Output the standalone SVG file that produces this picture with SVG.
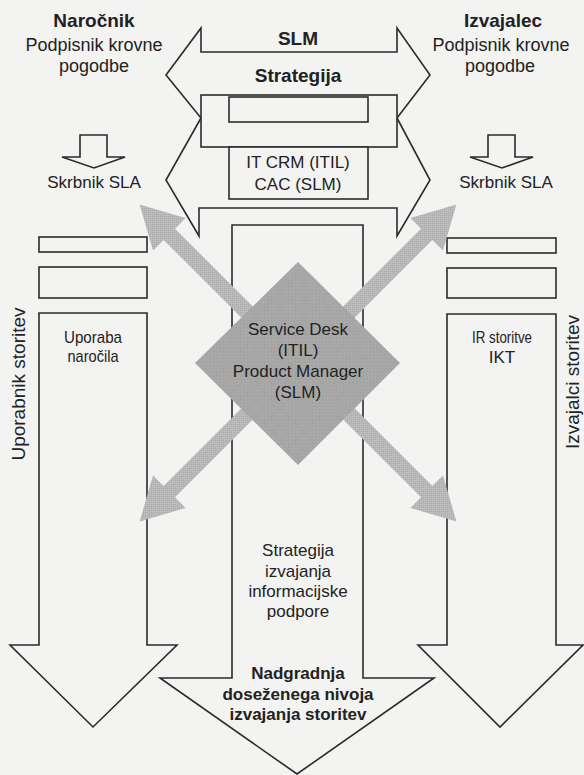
<svg xmlns="http://www.w3.org/2000/svg" width="584" height="775" viewBox="0 0 584 775">
  <style>
    .ln { fill: none; stroke: #2b2b2b; stroke-width: 1.6; stroke-linejoin: miter; }
    .bx { fill: #f3f3f1; stroke: #2b2b2b; stroke-width: 1.6; }
    .t { font-family: "Liberation Sans", Arial, Helvetica, sans-serif; fill: #222; text-anchor: middle; }
    .r17 { font-size: 17px; }
    .r18 { font-size: 18px; }
    .b19 { font-size: 19px; font-weight: bold; }
    .b17 { font-size: 17px; font-weight: bold; }
    .v19 { font-size: 19px; }
    .gray { fill: url(#screen-light); }
    .dia { fill: url(#screen-dark); }
  </style>
  <defs>
    <!-- halftone screens for the gray fills -->
    <pattern id="screen-light" width="2" height="2" patternUnits="userSpaceOnUse" patternTransform="rotate(45)">
      <rect width="2" height="2" fill="#bcbcbc"/>
      <rect width="1" height="1" fill="#a9a9a9"/>
    </pattern>
    <pattern id="screen-dark" width="2" height="2" patternUnits="userSpaceOnUse" patternTransform="rotate(45)">
      <rect width="2" height="2" fill="#adadad"/>
      <rect width="1" height="1" fill="#939393"/>
    </pattern>
    <!-- thick gray arrow pointing along +x, starting at the origin -->
    <path id="fat-arrow" d="M0,-8 L182,-8 L182,-23 L224,0 L182,23 L182,8 L0,8 Z"/>
  </defs>

  <rect x="0" y="0" width="584" height="775" fill="#f3f3f1"/>

  <!-- customer side -->
  <g id="narocnik">
    <text class="t b19" x="94" y="27">Naročnik</text>
    <text class="t r18" x="94" y="51">Podpisnik krovne</text>
    <text class="t r18" x="94" y="72">pogodbe</text>
    <text class="t r17" x="94" y="188">Skrbnik SLA</text>
  </g>

  <!-- provider side -->
  <g id="izvajalec">
    <text class="t b19" x="503" y="27">Izvajalec</text>
    <text class="t r18" x="501" y="51">Podpisnik krovne</text>
    <text class="t r18" x="500" y="72">pogodbe</text>
    <text class="t r17" x="506" y="188">Skrbnik SLA</text>
  </g>

  <!-- SLM double arrow -->
  <g id="slm">
    <polyline class="ln" points="201,118 166,75 201,28 201,52 397,52 397,28 430,75 397,118"/>
    <text class="t b19" x="298" y="45">SLM</text>
    <text class="t b19" x="298" y="82">Strategija</text>
  </g>

  <!-- strategy block -->
  <g id="strategija-blok">
    <rect class="bx" x="201" y="95" width="196" height="52"/>
    <rect class="bx" x="229" y="97" width="139" height="25"/>
  </g>

  <!-- lower double arrow -->
  <g id="crm-arrow">
    <polyline class="ln" points="201,118 166,180 199,236 199,208 397,208 397,236 430,180 397,118"/>
  </g>

  <g id="it-crm">
    <rect class="bx" x="229" y="147" width="139" height="52"/>
    <text class="t r17" x="298" y="168">IT CRM (ITIL)</text>
    <text class="t r17" x="298" y="190">CAC (SLM)</text>
  </g>

  <!-- user column -->
  <g id="uporabnik">
    <rect class="bx" x="39" y="237" width="108" height="15"/>
    <rect class="bx" x="39" y="267" width="108" height="31"/>
    <polygon class="bx" points="39,313 147,313 147,645 177,645 93,727 10,645 39,645"/>
    <text class="t r17" x="93" y="343" textLength="58" lengthAdjust="spacingAndGlyphs">Uporaba</text>
    <text class="t r17" x="93" y="362" textLength="51" lengthAdjust="spacingAndGlyphs">naročila</text>
    <text class="t v19" transform="translate(25,384) rotate(-90)">Uporabnik storitev</text>
  </g>

  <!-- provider column -->
  <g id="izvajalci">
    <rect class="bx" x="447" y="238" width="109" height="15"/>
    <rect class="bx" x="447" y="268" width="109" height="30"/>
    <polygon class="bx" points="447,314 556,314 556,645 583,645 500,727 418,645 447,645"/>
    <text class="t r17" x="502" y="343" textLength="60" lengthAdjust="spacingAndGlyphs">IR storitve</text>
    <text class="t r17" x="502" y="363">IKT</text>
    <text class="t v19" transform="translate(579,382) rotate(-90)">Izvajalci storitev</text>
  </g>

  <!-- central column -->
  <g id="osrednji">
    <polygon class="bx" points="232,225 363,225 363,678 434,678 297,774 160,678 232,678"/>
    <text class="t r17" x="298" y="556">Strategija</text>
    <text class="t r17" x="298" y="577">izvajanja</text>
    <text class="t r17" x="298" y="597">informacijske</text>
    <text class="t r17" x="298" y="617">podpore</text>
    <text class="t b17" x="298" y="679">Nadgradnja</text>
    <text class="t b17" x="298" y="700">doseženega nivoja</text>
    <text class="t b17" x="298" y="720">izvajanja storitev</text>
  </g>

  <g id="connectors">
    <!-- hollow down arrows to the SLA owners -->
    <polygon class="bx" points="80,135 107,135 107,157 125,157 94,168 62,157 80,157"/>
    <polygon class="bx" points="488,135 515,135 515,157 533,157 502,168 470,157 488,157"/>
    <!-- gray arrows spreading from the service desk -->
    <use href="#fat-arrow" class="gray" transform="translate(298,363) rotate(-135)"/>
    <use href="#fat-arrow" class="gray" transform="translate(298,363) rotate(-45)"/>
    <use href="#fat-arrow" class="gray" transform="translate(298,363) rotate(135)"/>
    <use href="#fat-arrow" class="gray" transform="translate(298,363) rotate(45)"/>
  </g>

  <g id="service-desk">
    <polygon class="dia" points="298,262 400,363 298,465 195,363"/>
    <text class="t r17" x="298" y="335">Service Desk</text>
    <text class="t r17" x="298" y="356">(ITIL)</text>
    <text class="t r17" x="298" y="377">Product Manager</text>
    <text class="t r17" x="298" y="398">(SLM)</text>
  </g>
</svg>
